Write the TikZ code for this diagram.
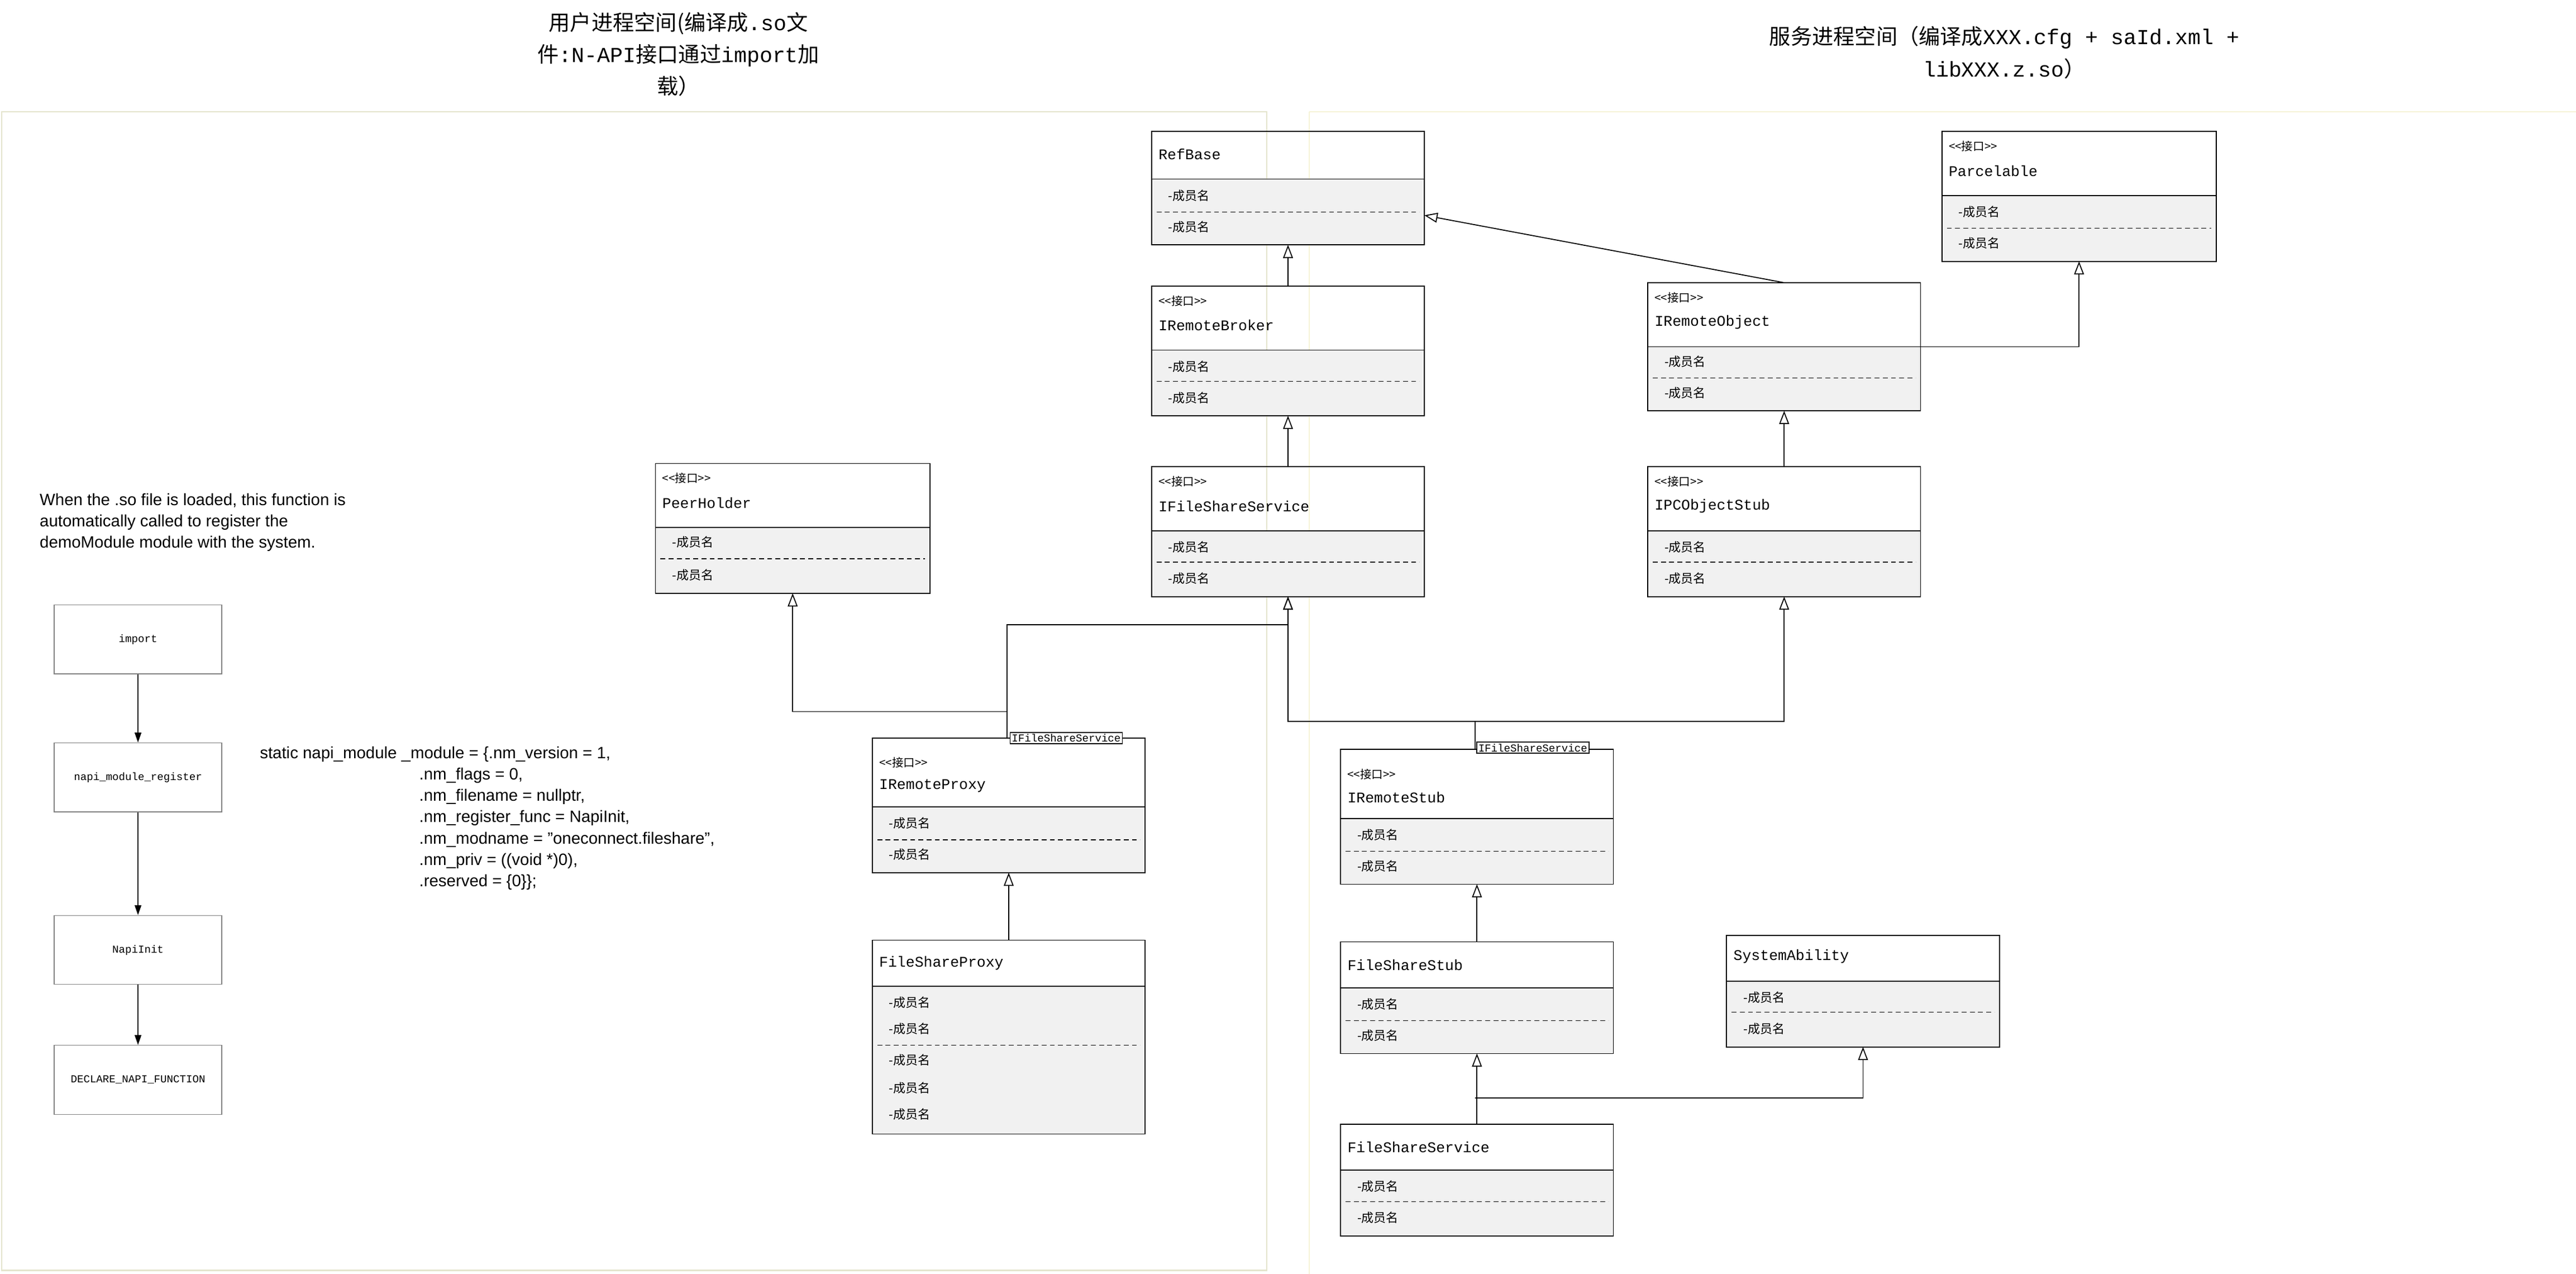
\documentclass[tikz,border=0pt]{standalone}
\usepackage{fontspec}
\setmainfont{Liberation Sans}
\newfontfamily\cjk{Noto Sans CJK SC}
\newfontfamily\mono{Liberation Mono}
\usetikzlibrary{arrows.meta,calc}
\definecolor{boxgray}{HTML}{F1F1F1}
\definecolor{framec}{HTML}{E4E4CC}
\definecolor{framer}{HTML}{F6F3D6}
\tikzset{
 inh/.style={-{Triangle[open,length=8pt,width=6pt]},line width=0.6pt},
 flow/.style={-{Triangle[length=6pt,width=4pt]},line width=0.6pt},
 lbl/.style={anchor=west,inner sep=0,font=\mono\fontsize{9}{10}\selectfont},
 ster/.style={anchor=west,inner sep=0,font=\cjk\fontsize{7}{8}\selectfont},
 row/.style={anchor=west,inner sep=0,font=\cjk\fontsize{7.5}{8}\selectfont},
 tmpl/.style={draw,fill=white,inner sep=1pt,font=\mono\fontsize{6.5}{7}\selectfont,line width=0.6pt},
 fbox/.style={draw=gray,minimum width=102pt,minimum height=42pt,inner sep=0,font=\mono\fontsize{6.5}{7}\selectfont}
}
% id, x, y, w, h, header height
\newcommand\ucls[6]{%
 \node[minimum width=#4pt,minimum height=#5pt,anchor=north west,inner sep=0,outer sep=0] (#1) at (#2,-#3) {};
 \draw[fill=boxgray,line width=0.6pt] ($(#1.north west)+(0,-#6)$) rectangle (#1.south east);
 \draw[line width=0.6pt] (#1.north west) rectangle (#1.south east);}
\newcommand\dsep[3]{\draw[densely dashed,line width=0.4pt] (#1+3,-#3) -- (#2-3,-#3);}
\begin{document}
\begin{tikzpicture}[x=1pt,y=1pt]
\useasboundingbox (0,0) rectangle (1568,-775);
\draw[framec,line width=0.8pt] (1,-68) rectangle (771,-773);
\draw[framer,line width=0.8pt] (797,-68) -- (1568,-68) (797,-68) -- (797,-775);
% titles
\node[align=center,font=\cjk\fontsize{13}{19.5}\selectfont] (t1) at (413,-33) {用户进程空间(编译成{\mono .so}文\\件{\mono :N-API}接口通过{\mono import}加\\载）};
\node[align=center,font=\cjk\fontsize{13}{19.5}\selectfont] (t2) at (1220,-32) {服务进程空间（编译成{\mono XXX.cfg + saId.xml +}\\{\mono libXXX.z.so}）};
% classes
\ucls{refbase}{701}{80}{166}{69}{29}
\node[lbl] at (705,-94) {RefBase};
\node[row] at (711,-119) {-成员名}; \dsep{701}{867}{129} \node[row] at (711,-138) {-成员名};

\ucls{parcel}{1182}{80}{167}{79}{39}
\node[ster] at (1186,-89) {<<接口>>}; \node[lbl] at (1186,-104) {Parcelable};
\node[row] at (1192,-129) {-成员名}; \dsep{1182}{1349}{139} \node[row] at (1192,-148) {-成员名};

\ucls{broker}{701}{174}{166}{79}{39}
\node[ster] at (705,-183) {<<接口>>}; \node[lbl] at (705,-198) {IRemoteBroker};
\node[row] at (711,-223) {-成员名}; \dsep{701}{867}{232} \node[row] at (711,-242) {-成员名};

\ucls{robject}{1003}{172}{166}{78}{39}
\node[ster] at (1007,-181) {<<接口>>}; \node[lbl] at (1007,-196) {IRemoteObject};
\node[row] at (1013,-220) {-成员名}; \dsep{1003}{1169}{230} \node[row] at (1013,-239) {-成员名};

\ucls{ifss}{701}{284}{166}{79}{39}
\node[ster] at (705,-293) {<<接口>>}; \node[lbl] at (705,-308) {IFileShareService};
\node[row] at (711,-333) {-成员名}; \dsep{701}{867}{342} \node[row] at (711,-352) {-成员名};

\ucls{ipcstub}{1003}{284}{166}{79}{39}
\node[ster] at (1007,-293) {<<接口>>}; \node[lbl] at (1007,-308) {IPCObjectStub};
\node[row] at (1013,-333) {-成员名}; \dsep{1003}{1169}{342} \node[row] at (1013,-352) {-成员名};

\ucls{peer}{399}{282}{167}{79}{39}
\node[ster] at (403,-291) {<<接口>>}; \node[lbl] at (403,-306) {PeerHolder};
\node[row] at (409,-330) {-成员名}; \dsep{399}{566}{340} \node[row] at (409,-350) {-成员名};

\ucls{rproxy}{531}{449}{166}{82}{42}
\node[ster] at (535,-464) {<<接口>>}; \node[lbl] at (535,-478) {IRemoteProxy};
\node[row] at (541,-501) {-成员名}; \dsep{531}{697}{511} \node[row] at (541,-520) {-成员名};

\ucls{fsproxy}{531}{572}{166}{118}{28}
\node[lbl] at (535,-586) {FileShareProxy};
\node[row] at (541,-610) {-成员名}; \node[row] at (541,-626) {-成员名}; \dsep{531}{697}{636}
\node[row] at (541,-645) {-成员名}; \node[row] at (541,-662) {-成员名}; \node[row] at (541,-678) {-成员名};

\ucls{rstub}{816}{456}{166}{82}{42}
\node[ster] at (820,-471) {<<接口>>}; \node[lbl] at (820,-485) {IRemoteStub};
\node[row] at (826,-508) {-成员名}; \dsep{816}{982}{518} \node[row] at (826,-527) {-成员名};

\ucls{fsstub}{816}{573}{166}{68}{28}
\node[lbl] at (820,-587) {FileShareStub};
\node[row] at (826,-611) {-成员名}; \dsep{816}{982}{621} \node[row] at (826,-630) {-成员名};

\ucls{sysab}{1051}{569}{166}{68}{28}
\node[lbl] at (1055,-582) {SystemAbility};
\node[row] at (1061,-607) {-成员名}; \dsep{1051}{1217}{616} \node[row] at (1061,-626) {-成员名};

\ucls{fsservice}{816}{684}{166}{68}{28}
\node[lbl] at (820,-698) {FileShareService};
\node[row] at (826,-722) {-成员名}; \dsep{816}{982}{731} \node[row] at (826,-741) {-成员名};

% inheritance connectors
\draw[inh] (broker.north) -- (refbase.south);
\draw[inh] (ifss.north) -- (broker.south);
\draw[inh] (robject.north) -- (867,-131);
\draw[inh] (robject.east) -| (parcel.south);
\draw[inh] (ipcstub.north) -- (robject.south);
\draw[inh] (fsproxy.north) -- (rproxy.south);
\draw[inh] (fsstub.north) -- (rstub.south);
\draw[inh] (fsservice.north) -- (fsstub.south);
\coordinate (ps) at (613,-449);
\draw[inh] (ps) |- (784,-380) -- (ifss.south);
\draw[inh] (613,-433) -| (peer.south);
\coordinate (ss) at (898,-456);
\draw[line width=0.6pt] (ss) -- (898,-439);
\draw[inh] (898,-439) -| (ifss.south);
\draw[inh] (898,-439) -| (ipcstub.south);
\draw[inh] (898,-668) -| (sysab.south);
% template labels
\node[tmpl] (tp1) at (649,-449) {IFileShareService};
\node[tmpl] (tp2) at (933,-455) {IFileShareService};
% flow
\node[fbox] (f1) at (84,-389) {import};
\node[fbox] (f2) at (84,-473) {napi\_module\_register};
\node[fbox] (f3) at (84,-578) {NapiInit};
\node[fbox] (f4) at (84,-657) {DECLARE\_NAPI\_FUNCTION};
\draw[flow] (f1) -- (f2); \draw[flow] (f2) -- (f3); \draw[flow] (f3) -- (f4);
\node[anchor=north west,align=left,inner sep=0,font=\fontsize{10}{13}\selectfont] (note) at (24,-300) {When the .so file is loaded, this function is\\automatically called to register the\\demoModule module with the system.};
\node[anchor=north west,align=left,inner sep=0,font=\fontsize{10}{13}\selectfont] (code) at (158,-454) {static napi\_module \_module = \{.nm\_version = 1,\\
\hspace*{97pt}.nm\_flags = 0,\\
\hspace*{97pt}.nm\_filename = nullptr,\\
\hspace*{97pt}.nm\_register\_func = NapiInit,\\
\hspace*{97pt}.nm\_modname = "oneconnect.fileshare",\\
\hspace*{97pt}.nm\_priv = ((void *)0),\\
\hspace*{97pt}.reserved = \{0\}\};};
\end{tikzpicture}
\end{document}
